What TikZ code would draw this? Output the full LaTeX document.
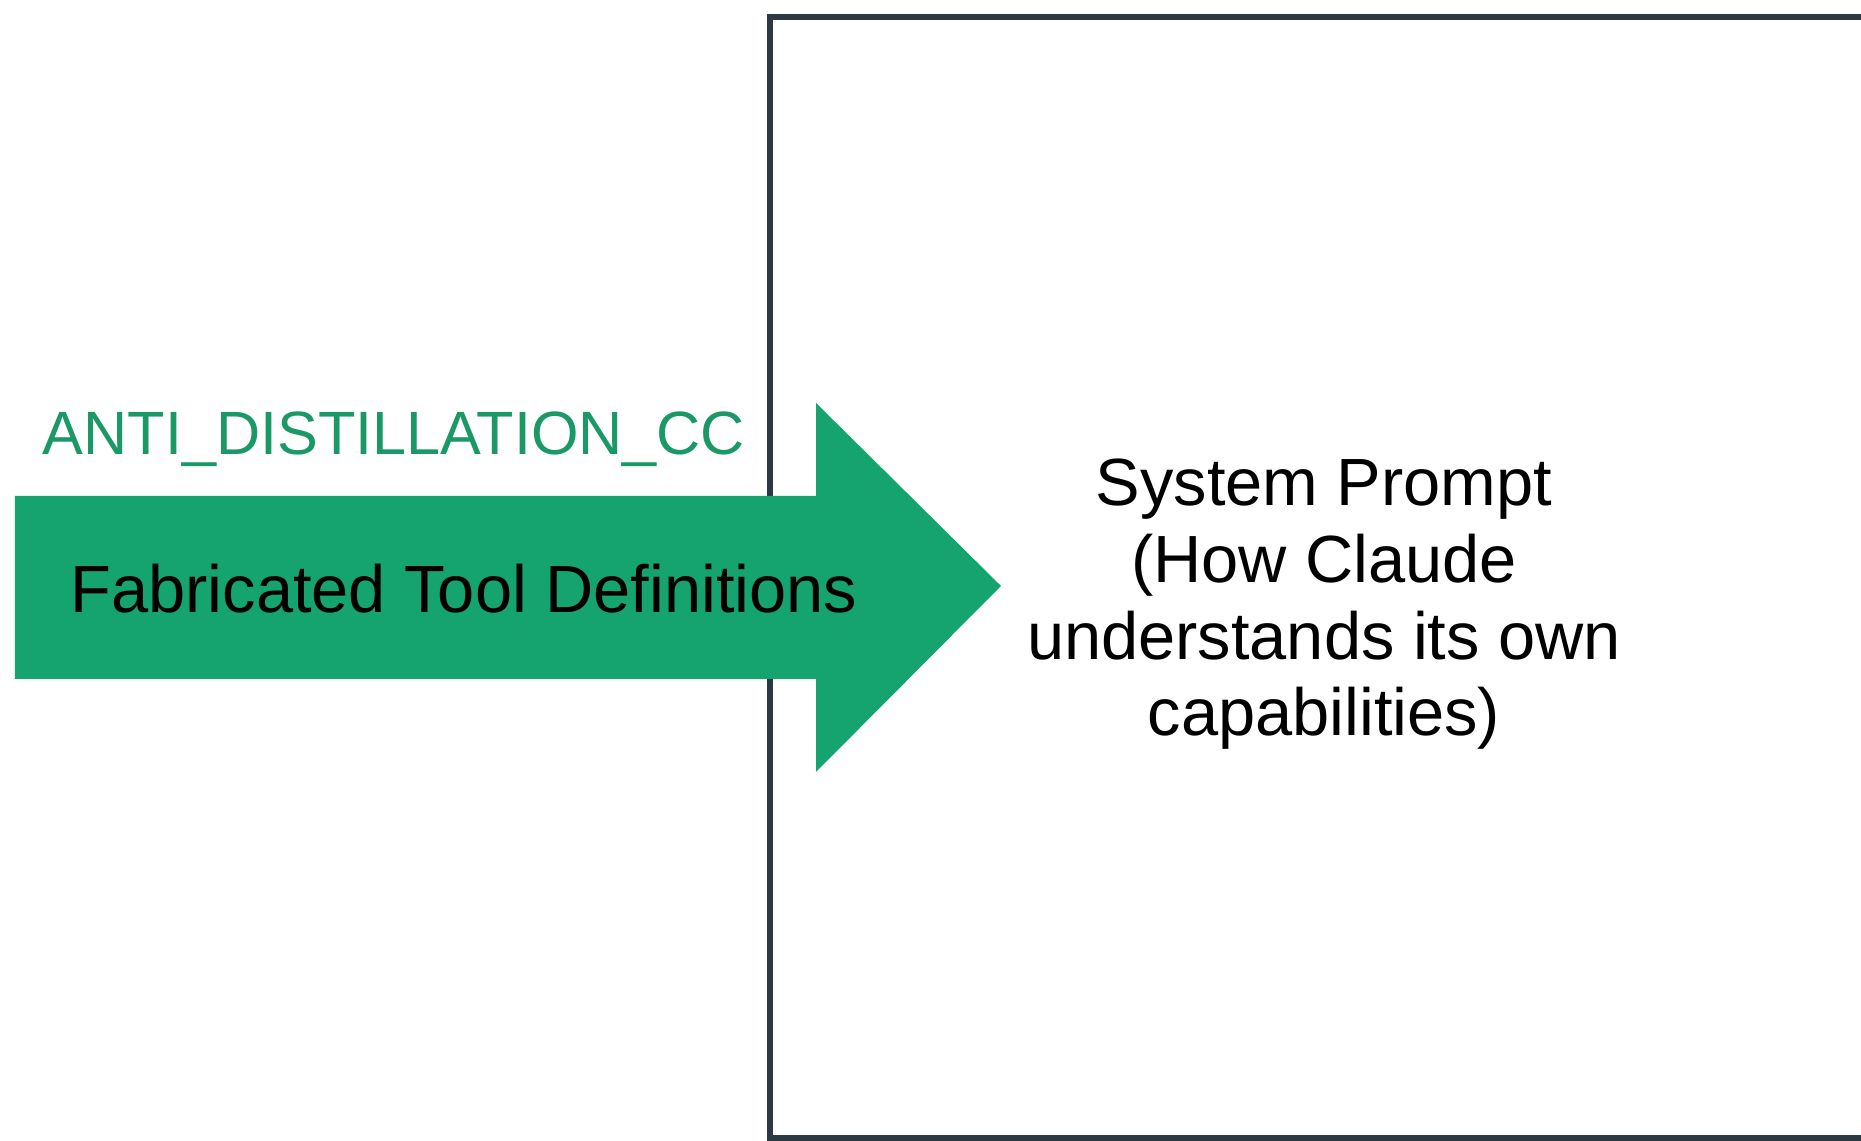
\documentclass[tikz,border=0pt]{standalone}
\usepackage{fontspec}
\setmainfont{Liberation Sans}
\usetikzlibrary{positioning,calc}
\definecolor{arrowgreen}{RGB}{21,163,111}
\definecolor{labelgreen}{RGB}{26,152,102}
\definecolor{boxline}{RGB}{44,56,66}

\begin{document}
\begin{tikzpicture}[
    frame/.style={draw=boxline, line width=1.8pt},
    bigarrow/.style={fill=arrowgreen, draw=none},
    flag/.style={font=\fontsize{17.4}{21}\selectfont, text=labelgreen, inner sep=0pt},
    caption/.style={font=\fontsize{19}{21.9}\selectfont, align=center, inner sep=0pt}]
  \useasboundingbox (0,0) rectangle (18.61,11.41);
  \clip (0,0) rectangle (18.61,11.41);

  % System prompt box, runs off the page to the right
  \draw[frame] (7.70,0.03) rectangle (19.5,11.24);

  % Injected arrow, drawn over the box edge
  \fill[bigarrow] (0.15,6.45) -- (8.16,6.45) -- (8.16,7.38) -- (10.01,5.55)
    -- (8.16,3.69) -- (8.16,4.62) -- (0.15,4.62) -- cycle;

  % Labels
  \node[flag, anchor=base] (flagname) at (3.94,6.86) {ANTI\_DISTILLATION\_CC};
  \node[caption, anchor=base] (tools) at (4.64,5.28) {Fabricated Tool Definitions};
  \node[caption, anchor=base] (prompt) at (13.24,4.05)
    {System Prompt\\(How Claude\\understands its own\\capabilities)};
\end{tikzpicture}
\end{document}
